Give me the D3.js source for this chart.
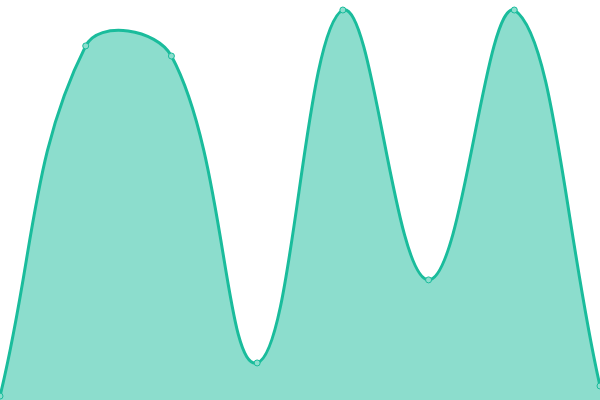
<!DOCTYPE html>
<html><head><meta charset="utf-8">
<script src="https://cdn.jsdelivr.net/npm/d3@7"></script>
<style>html,body{margin:0;padding:0;background:#fff;}svg{display:block;}</style>
</head><body>
<svg id="chart" width="600" height="400"></svg>
<script>
const categories = [0, 1, 2, 3, 4, 5, 6, 7];
const values = [1, 90.8, 88.2, 9.5, 100, 30.8, 100, 3.6];

const W = 600, H = 400;
const TENSION = 0.4;

// Tension spline curve (distance-weighted cardinal spline)
class TensionCurve {
  constructor(ctx) { this._context = ctx; }
  areaStart() { this._line = 0; }
  areaEnd() { this._line = NaN; }
  lineStart() { this._pts = []; }
  point(x, y) { this._pts.push([+x, +y]); }
  lineEnd() {
    const p = this._pts, n = p.length, ctx = this._context;
    if (n) {
      if (this._line) ctx.lineTo(p[0][0], p[0][1]); else ctx.moveTo(p[0][0], p[0][1]);
      const cp = p.map((cur, i) => {
        const prev = i > 0 ? p[i - 1] : cur, next = i < n - 1 ? p[i + 1] : cur;
        const d01 = Math.hypot(cur[0] - prev[0], cur[1] - prev[1]);
        const d12 = Math.hypot(next[0] - cur[0], next[1] - cur[1]);
        let s01 = d01 / (d01 + d12), s12 = d12 / (d01 + d12);
        if (isNaN(s01)) s01 = 0; if (isNaN(s12)) s12 = 0;
        const fa = TENSION * s01, fb = TENSION * s12;
        const cl = v => [Math.max(0, Math.min(W, v[0])), Math.max(0, Math.min(H, v[1]))];
        return {
          prev: cl([cur[0] - fa * (next[0] - prev[0]), cur[1] - fa * (next[1] - prev[1])]),
          next: cl([cur[0] + fb * (next[0] - prev[0]), cur[1] + fb * (next[1] - prev[1])])
        };
      });
      for (let i = 1; i < n; i++) {
        ctx.bezierCurveTo(cp[i - 1].next[0], cp[i - 1].next[1], cp[i].prev[0], cp[i].prev[1], p[i][0], p[i][1]);
      }
    }
    if (this._line || (this._line !== 0 && n === 1)) ctx.closePath();
    this._line = 1 - this._line;
  }
}
const curveTension = ctx => new TensionCurve(ctx);

const svg = d3.select("#chart");
const x = d3.scaleLinear().domain([0, categories.length - 1]).range([0, W]);
const y = d3.scaleLinear().domain([0, 100]).range([H, 10]);
const data = categories.map((c, i) => ({c, v: values[i]}));

svg.append("path").datum(data)
  .attr("fill", "#1abc9c").attr("fill-opacity", 0.5)
  .attr("d", d3.area().x(d => x(d.c)).y0(H).y1(d => y(d.v)).curve(curveTension));
svg.append("path").datum(data)
  .attr("fill", "none").attr("stroke", "#1abc9c").attr("stroke-width", 3)
  .attr("d", d3.line().x(d => x(d.c)).y(d => y(d.v)).curve(curveTension));
svg.selectAll("circle").data(data).join("circle")
  .attr("cx", d => x(d.c)).attr("cy", d => y(d.v)).attr("r", 3)
  .attr("fill", "#8ddece").attr("stroke", "#1abc9c").attr("stroke-width", 1);
</script>
</body></html>
